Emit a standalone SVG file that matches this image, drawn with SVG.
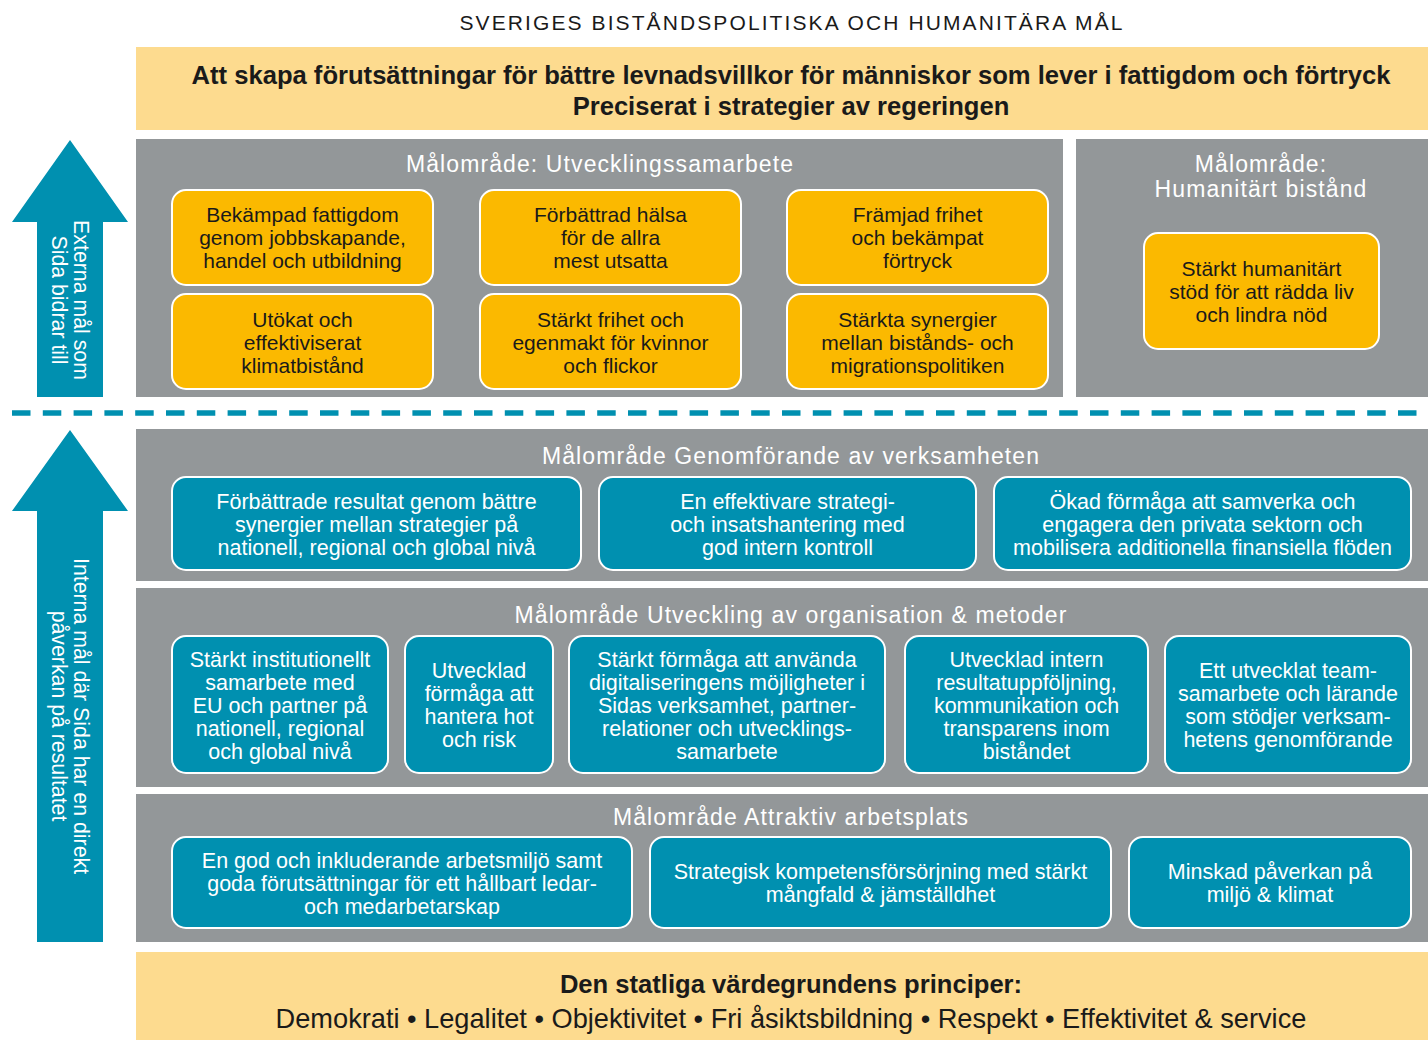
<svg xmlns="http://www.w3.org/2000/svg" width="1428" height="1040" viewBox="0 0 1428 1040">
<defs>
<style>
text{font-family:"Liberation Sans",Arial,sans-serif;text-anchor:middle}
.band{fill:#FDDB8F}
.panel{fill:#939799}
.obox{fill:#FBB900;stroke:#FFFFFF;stroke-width:2}
.tbox{fill:#0090B0;stroke:#FFFFFF;stroke-width:2}
.arrow{fill:#0090B0}
.pt{fill:#FFFFFF;font-size:23px;letter-spacing:1.1px}
.ot{fill:#1A1A1A;font-size:21px}
.tt{fill:#FFFFFF;font-size:21.5px}
.at{fill:#FFFFFF;font-size:21.3px}
.head{fill:#1A1A1A;font-size:21px;letter-spacing:2.1px}
.big{fill:#1A1A1A;font-size:25.6px;font-weight:bold}
.reg{fill:#1A1A1A;font-size:27.2px}
</style>
</defs>
<rect width="1428" height="1040" fill="#FFFFFF"/>
<text class="head" x="792" y="30">SVERIGES BISTÅNDSPOLITISKA OCH HUMANITÄRA MÅL</text>

<g id="top-goal">
<rect class="band" x="136" y="47" width="1292" height="83"/>
<text class="big" x="791" y="84">Att skapa förutsättningar för bättre levnadsvillkor för människor som lever i fattigdom och förtryck</text>
<text class="big" x="791" y="115">Preciserat i strategier av regeringen</text>
</g>

<g id="arrow-external">
<polygon class="arrow" points="70,140 128,222 103,222 103,397 37,397 37,222 12,222"/>
<text class="at" transform="translate(74,300) rotate(90)">Externa mål som</text>
<text class="at" transform="translate(52,300) rotate(90)">Sida bidrar till</text>
</g>

<g id="panel-utveckling">
<rect class="panel" x="136" y="139" width="927" height="258"/>
<text class="pt" x="600" y="172">Målområde: Utvecklingssamarbete</text>
</g>
<g id="n-fattigdom">
<rect class="obox" x="172" y="190" width="261" height="95" rx="14"/>
<text class="ot" x="302.5" y="222">Bekämpad fattigdom</text>
<text class="ot" x="302.5" y="245">genom jobbskapande,</text>
<text class="ot" x="302.5" y="268">handel och utbildning</text>
</g>
<g id="n-halsa">
<rect class="obox" x="480" y="190" width="261" height="95" rx="14"/>
<text class="ot" x="610.5" y="222">Förbättrad hälsa</text>
<text class="ot" x="610.5" y="245">för de allra</text>
<text class="ot" x="610.5" y="268">mest utsatta</text>
</g>
<g id="n-frihet">
<rect class="obox" x="787" y="190" width="261" height="95" rx="14"/>
<text class="ot" x="917.5" y="222">Främjad frihet</text>
<text class="ot" x="917.5" y="245">och bekämpat</text>
<text class="ot" x="917.5" y="268">förtryck</text>
</g>
<g id="n-klimat">
<rect class="obox" x="172" y="294" width="261" height="95" rx="14"/>
<text class="ot" x="302.5" y="327">Utökat och</text>
<text class="ot" x="302.5" y="350">effektiviserat</text>
<text class="ot" x="302.5" y="373">klimatbistånd</text>
</g>
<g id="n-kvinnor">
<rect class="obox" x="480" y="294" width="261" height="95" rx="14"/>
<text class="ot" x="610.5" y="327">Stärkt frihet och</text>
<text class="ot" x="610.5" y="350">egenmakt för kvinnor</text>
<text class="ot" x="610.5" y="373">och flickor</text>
</g>
<g id="n-migration">
<rect class="obox" x="787" y="294" width="261" height="95" rx="14"/>
<text class="ot" x="917.5" y="327">Stärkta synergier</text>
<text class="ot" x="917.5" y="350">mellan bistånds- och</text>
<text class="ot" x="917.5" y="373">migrationspolitiken</text>
</g>

<g id="panel-humanitart">
<rect class="panel" x="1076" y="139" width="352" height="258"/>
<text class="pt" x="1261" y="172">Målområde:</text>
<text class="pt" x="1261" y="197">Humanitärt bistånd</text>
</g>
<g id="n-humanitart">
<rect class="obox" x="1144" y="233" width="235" height="116" rx="14"/>
<text class="ot" x="1261.5" y="276">Stärkt humanitärt</text>
<text class="ot" x="1261.5" y="299">stöd för att rädda liv</text>
<text class="ot" x="1261.5" y="322">och lindra nöd</text>
</g>

<g id="connectors">
<line x1="12" y1="413" x2="1428" y2="413" stroke="#0090B0" stroke-width="5.5" stroke-dasharray="18.5 12.3"/>
</g>

<g id="arrow-internal">
<polygon class="arrow" points="70,430 128,511 103,511 103,942 37,942 37,511 12,511"/>
<text class="at" transform="translate(74,716) rotate(90)">Interna mål där Sida har en direkt</text>
<text class="at" transform="translate(52,716) rotate(90)">påverkan på resultatet</text>
</g>

<g id="panel-genomforande">
<rect class="panel" x="136" y="429" width="1292" height="152"/>
<text class="pt" x="791" y="464">Målområde Genomförande av verksamheten</text>
</g>
<g id="n-synergier">
<rect class="tbox" x="172" y="477" width="409" height="93" rx="14"/>
<text class="tt" x="376.5" y="509">Förbättrade resultat genom bättre</text>
<text class="tt" x="376.5" y="532">synergier mellan strategier på</text>
<text class="tt" x="376.5" y="555">nationell, regional och global nivå</text>
</g>
<g id="n-insatshantering">
<rect class="tbox" x="599" y="477" width="377" height="93" rx="14"/>
<text class="tt" x="787.5" y="509">En effektivare strategi-</text>
<text class="tt" x="787.5" y="532">och insatshantering med</text>
<text class="tt" x="787.5" y="555">god intern kontroll</text>
</g>
<g id="n-privata">
<rect class="tbox" x="994" y="477" width="417" height="93" rx="14"/>
<text class="tt" x="1202.5" y="509">Ökad förmåga att samverka och</text>
<text class="tt" x="1202.5" y="532">engagera den privata sektorn och</text>
<text class="tt" x="1202.5" y="555">mobilisera additionella finansiella flöden</text>
</g>

<g id="panel-organisation">
<rect class="panel" x="136" y="588" width="1292" height="199"/>
<text class="pt" x="791" y="623">Målområde Utveckling av organisation &amp; metoder</text>
</g>
<g id="n-institutionellt">
<rect class="tbox" x="172" y="636" width="216" height="137" rx="14"/>
<text class="tt" x="280" y="667">Stärkt institutionellt</text>
<text class="tt" x="280" y="690">samarbete med</text>
<text class="tt" x="280" y="713">EU och partner på</text>
<text class="tt" x="280" y="736">nationell, regional</text>
<text class="tt" x="280" y="759">och global nivå</text>
</g>
<g id="n-hot">
<rect class="tbox" x="405" y="636" width="148" height="137" rx="14"/>
<text class="tt" x="479" y="678">Utvecklad</text>
<text class="tt" x="479" y="701">förmåga att</text>
<text class="tt" x="479" y="724">hantera hot</text>
<text class="tt" x="479" y="747">och risk</text>
</g>
<g id="n-digital">
<rect class="tbox" x="569" y="636" width="316" height="137" rx="14"/>
<text class="tt" x="727" y="667">Stärkt förmåga att använda</text>
<text class="tt" x="727" y="690">digitaliseringens möjligheter i</text>
<text class="tt" x="727" y="713">Sidas verksamhet, partner-</text>
<text class="tt" x="727" y="736">relationer och utvecklings-</text>
<text class="tt" x="727" y="759">samarbete</text>
</g>
<g id="n-resultat">
<rect class="tbox" x="905" y="636" width="243" height="137" rx="14"/>
<text class="tt" x="1026.5" y="667">Utvecklad intern</text>
<text class="tt" x="1026.5" y="690">resultatuppföljning,</text>
<text class="tt" x="1026.5" y="713">kommunikation och</text>
<text class="tt" x="1026.5" y="736">transparens inom</text>
<text class="tt" x="1026.5" y="759">biståndet</text>
</g>
<g id="n-team">
<rect class="tbox" x="1165" y="636" width="246" height="137" rx="14"/>
<text class="tt" x="1288" y="678">Ett utvecklat team-</text>
<text class="tt" x="1288" y="701">samarbete och lärande</text>
<text class="tt" x="1288" y="724">som stödjer verksam-</text>
<text class="tt" x="1288" y="747">hetens genomförande</text>
</g>

<g id="panel-arbetsplats">
<rect class="panel" x="136" y="794" width="1292" height="148"/>
<text class="pt" x="791" y="825">Målområde Attraktiv arbetsplats</text>
</g>
<g id="n-arbetsmiljo">
<rect class="tbox" x="172" y="837" width="460" height="91" rx="14"/>
<text class="tt" x="402" y="868">En god och inkluderande arbetsmiljö samt</text>
<text class="tt" x="402" y="891">goda förutsättningar för ett hållbart ledar-</text>
<text class="tt" x="402" y="914">och medarbetarskap</text>
</g>
<g id="n-kompetens">
<rect class="tbox" x="650" y="837" width="461" height="91" rx="14"/>
<text class="tt" x="880.5" y="879">Strategisk kompetensförsörjning med stärkt</text>
<text class="tt" x="880.5" y="902">mångfald &amp; jämställdhet</text>
</g>
<g id="n-miljo">
<rect class="tbox" x="1129" y="837" width="282" height="91" rx="14"/>
<text class="tt" x="1270" y="879">Minskad påverkan på</text>
<text class="tt" x="1270" y="902">miljö &amp; klimat</text>
</g>

<g id="values">
<rect class="band" x="136" y="952" width="1292" height="88"/>
<text class="big" x="791" y="993">Den statliga värdegrundens principer:</text>
<text class="reg" x="791" y="1028">Demokrati • Legalitet • Objektivitet • Fri åsiktsbildning • Respekt • Effektivitet &amp; service</text>
</g>
</svg>
